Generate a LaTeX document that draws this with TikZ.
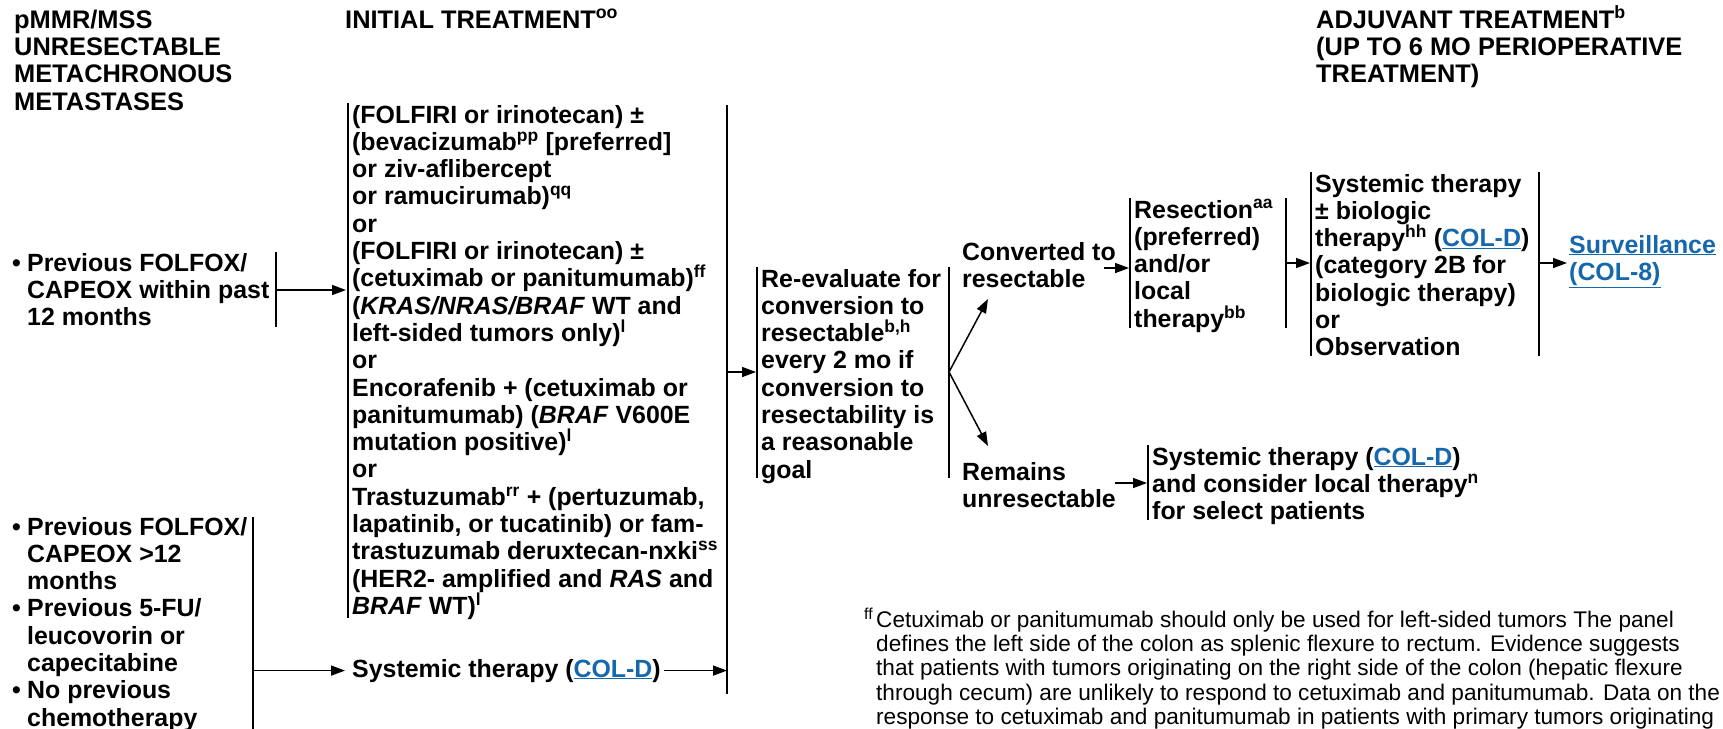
\documentclass[tikz,border=0pt]{standalone}
\usepackage{fontspec}
\setmainfont{Liberation Sans}
\usetikzlibrary{arrows.meta}
\definecolor{linkblue}{RGB}{22,104,172}
% stacked lines with a fixed line pitch; the box baseline is the first line
\newcommand\rows[1]{\vtop{\lineskiplimit=-100pt\lineskip=0pt\halign{##\hfil\cr#1\crcr}}}
\newcommand\lnk[1]{\textcolor{linkblue}{\underline{#1}}}
\newcommand\sy[1]{\textsuperscript{#1}}
\newcommand\bul{\makebox[15pt][l]{•}}
\newcommand\ind{\hspace*{15pt}}
\tikzset{
  body/.style={inner sep=0pt, anchor=base west, font=\fontsize{24.9}{27.3}\selectfont\bfseries},
  head/.style={body, font=\fontsize{25.4}{27.4}\selectfont\bfseries},
  note/.style={inner sep=0pt, anchor=base west, font=\fontsize{22.6}{24.4}\selectfont},
  bar/.style={line width=1.6pt},
  arr/.style={line width=1.5pt, -{Triangle[length=14pt,width=10pt]}},
}
\begin{document}
\begin{tikzpicture}[x=1pt,y=-1pt]
\useasboundingbox (0,0) rectangle (1723,728);
\fill[white] (0,0) rectangle (1723,728);
\clip (0,0) rectangle (1723,728);

% column headings
\node[head] (hL) at (14,28) {\rows{pMMR/MSS\cr UNRESECTABLE\cr METACHRONOUS\cr METASTASES}};
\node[head] (hI) at (345,28) {INITIAL TREATMENT\sy{oo}};
\node[head] (hA) at (1316,28) {\rows{ADJUVANT TREATMENT\sy{b}\cr (UP TO 6 MO PERIOPERATIVE\cr TREATMENT)}};

% prior treatment groups
\node[body] (p1) at (12,271) {\rows{\bul Previous FOLFOX/\cr \ind CAPEOX within past\cr \ind 12 months}};
\node[body] (p2) at (12,535) {\rows{\bul Previous FOLFOX/\cr \ind CAPEOX >12\cr \ind months\cr \bul Previous 5-FU/\cr \ind leucovorin or\cr \ind capecitabine\cr \bul No previous\cr \ind chemotherapy}};

% initial treatment options
\node[body] (init) at (352,123) {\rows{%
(FOLFIRI or irinotecan) ±\cr
(bevacizumab\sy{pp} [preferred]\cr
or ziv-aflibercept\cr
or ramucirumab)\sy{qq}\cr
or\cr
(FOLFIRI or irinotecan) ±\cr
(cetuximab or panitumumab)\sy{ff}\cr
(\textit{KRAS/NRAS/BRAF} WT and\cr
left-sided tumors only)\sy{l}\cr
or\cr
Encorafenib + (cetuximab or\cr
panitumumab) (\textit{BRAF} V600E\cr
mutation positive)\sy{l}\cr
or\cr
Trastuzumab\sy{rr} + (pertuzumab,\cr
lapatinib, or tucatinib) or fam-\cr
trastuzumab deruxtecan-nxki\sy{ss}\cr
(HER2- amplified and \textit{RAS} and\cr
\textit{BRAF} WT)\sy{l}}};
\node[body] (sys0) at (352,677) {Systemic therapy (\lnk{COL-D})};

% re-evaluation and outcomes
\node[body] (reev) at (761,287) {\rows{Re-evaluate for\cr conversion to\cr resectable\sy{b,h}\cr every 2 mo if\cr conversion to\cr resectability is\cr a reasonable\cr goal}};
\node[body] (conv) at (962,260) {\rows{Converted to\cr resectable}};
\node[body] (rem) at (962,480) {\rows{Remains\cr unresectable}};
\node[body] (resect) at (1134,218) {\rows{Resection\sy{aa}\cr (preferred)\cr and/or\cr local\cr therapy\sy{bb}}};
\node[body] (adj) at (1315,192) {\rows{Systemic therapy\cr ± biologic\cr therapy\sy{hh} (\lnk{COL-D})\cr (category 2B for\cr biologic therapy)\cr or\cr Observation}};
\node[body] (surv) at (1569,253) {\rows{\lnk{Surveillance}\cr \lnk{(COL-8)}}};
\node[body] (sys2) at (1152,465) {\rows{Systemic therapy (\lnk{COL-D})\cr and consider local therapy\sy{n}\cr for select patients}};

% footnote
\node[note] (fn) at (876,627) {\rows{%
\llap{\sy{ff}\hspace{3pt}}Cetuximab or panitumumab should only be used for left-sided tumors The panel\cr
defines the left side of the colon as splenic flexure to rectum. Evidence suggests\cr
that patients with tumors originating on the right side of the colon (hepatic flexure\cr
through cecum) are unlikely to respond to cetuximab and panitumumab. Data on the\cr
response to cetuximab and panitumumab in patients with primary tumors originating}};

% bracket bars
\coordinate (g1t) at (276,252); \coordinate (g1b) at (276,327);
\coordinate (g2t) at (253,517); \coordinate (g2b) at (253,740);
\coordinate (iLt) at (348,103); \coordinate (iLb) at (348,618);
\coordinate (iRt) at (727,105); \coordinate (iRb) at (727,694);
\coordinate (rLt) at (757,267); \coordinate (rLb) at (757,478);
\coordinate (rRt) at (949,267); \coordinate (rRb) at (949,478);
\coordinate (sLt) at (1130,198); \coordinate (sLb) at (1130,328);
\coordinate (sRt) at (1286,198); \coordinate (sRb) at (1286,328);
\coordinate (aLt) at (1311,172); \coordinate (aLb) at (1311,356);
\coordinate (aRt) at (1539,172); \coordinate (aRb) at (1539,356);
\coordinate (yLt) at (1148,445); \coordinate (yLb) at (1148,520);
\foreach \a/\b in {g1t/g1b,g2t/g2b,iLt/iLb,iRt/iRb,rLt/rLb,rRt/rRb,sLt/sLb,sRt/sRb,aLt/aLb,aRt/aRb,yLt/yLb}
  \draw[bar] (\a) -- (\b);

% connector ends
\coordinate (g1o) at (276,290);   \coordinate (initIn) at (346,290);
\coordinate (iOut) at (727,372);  \coordinate (reIn) at (756,372);
\coordinate (fork) at (949,372);
\coordinate (convTip) at (988,299); \coordinate (remTip) at (988,446);
\coordinate (convOut) at (1104,268); \coordinate (resIn) at (1129,268);
\coordinate (resOut) at (1286,263); \coordinate (adjIn) at (1310,263);
\coordinate (adjOut) at (1539,263); \coordinate (survIn) at (1567,263);
\coordinate (remOut) at (1115,483); \coordinate (sys2In) at (1147,483);

% connectors
\draw[arr] (g1o) -- (initIn);
\draw[arr] (sys0.west -| g2t) -- ([xshift=-7pt]sys0.west);
\draw[arr] ([xshift=3pt]sys0.east) -- (sys0.east -| iRt);
\draw[arr] (iOut) -- (reIn);
\draw[arr] (fork) -- (convTip);
\draw[arr] (fork) -- (remTip);
\draw[arr] (convOut) -- (resIn);
\draw[arr] (resOut) -- (adjIn);
\draw[arr] (adjOut) -- (survIn);
\draw[arr] (remOut) -- (sys2In);
\end{tikzpicture}
\end{document}
